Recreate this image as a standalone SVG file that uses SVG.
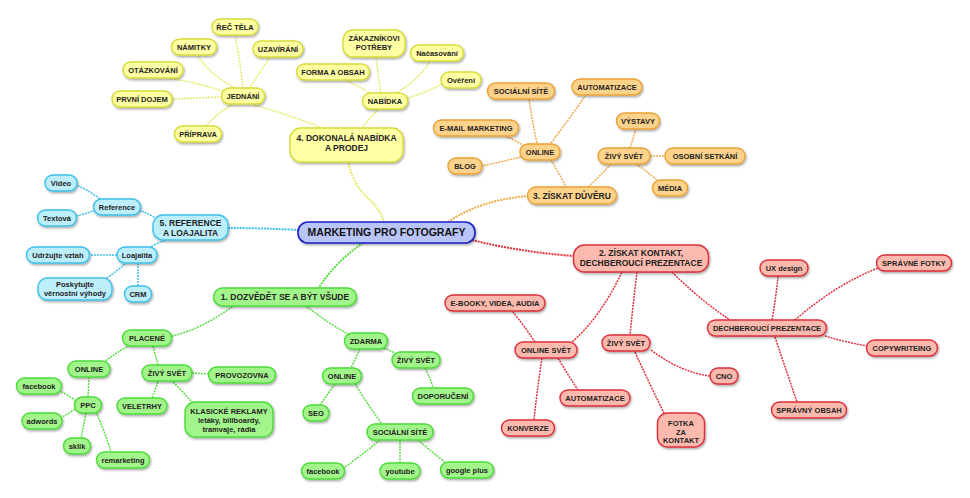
<svg xmlns="http://www.w3.org/2000/svg" width="970" height="498" viewBox="0 0 970 498">
<defs>
<filter id="sh" x="-20%" y="-30%" width="140%" height="170%">
<feDropShadow dx="1" dy="1.5" stdDeviation="1" flood-color="#000" flood-opacity="0.35"/>
</filter>
</defs>
<style>
text{font-family:"Liberation Sans",Arial,sans-serif;font-weight:bold;font-size:7.5px;fill:#222;text-anchor:middle}
.big{font-size:8.5px}
.main{font-size:10.5px;fill:#111}
rect{stroke-width:1.4;filter:url(#sh)}
.y rect{fill:#ffffa4;stroke:#d8dc38}
.o rect{fill:#fdd38c;stroke:#eba236}
.b rect{fill:#bdeefc;stroke:#3cbfe8}
.g rect{fill:#a2f58a;stroke:#4cdb3a}
.r rect{fill:#fcb9ad;stroke:#dd2f3a}
.c rect{fill:#b9c4f8;stroke:#1a22c6;stroke-width:1.6}
#connectors path{fill:none;stroke-dasharray:2 1;stroke-width:1.5}
#connectors .m{stroke-width:2}
.cy{stroke:#e6ea6a}
.co{stroke:#f0aa4c}
.cb{stroke:#3cbfe8}
.cg{stroke:#5ade44}
.cr{stroke:#e0323e}
</style>
<rect x="0" y="0" width="970" height="498" fill="#fff" style="filter:none;stroke:none"/>
<g id="connectors">
<!-- main branches -->
<path class="cy m" d="M348,160 Q352,185 370,200 Q382,212 384,223"/>
<path class="co m" d="M448,222 Q480,200 528,196"/>
<path class="cr m" d="M472,240 Q520,252 574,256"/>
<path class="cg m" d="M363,243 Q335,262 318,289"/>
<path class="cb m" d="M299,230 Q260,228 228,228"/>
<!-- yellow -->
<path class="cy" d="M243,89 Q240,60 235,35"/>
<path class="cy" d="M238,90 Q210,75 197,55"/>
<path class="cy" d="M249,89 Q260,72 270,57"/>
<path class="cy" d="M226,92 Q195,82 168,78"/>
<path class="cy" d="M222,97 L172,99"/>
<path class="cy" d="M233,104 Q215,115 205,127"/>
<path class="cy" d="M254,105 Q290,115 322,128"/>
<path class="cy" d="M378,110 Q368,120 362,128"/>
<path class="cy" d="M381,93 Q378,75 376,57"/>
<path class="cy" d="M395,94 Q418,80 430,62"/>
<path class="cy" d="M372,94 Q358,86 345,80"/>
<path class="cy" d="M407,98 Q428,92 443,83"/>
<!-- orange -->
<path class="co" d="M551,160 Q560,175 566,187"/>
<path class="co" d="M611,164 Q598,178 588,187"/>
<path class="co" d="M537,143 Q532,120 529,99"/>
<path class="co" d="M551,143 Q570,118 585,96"/>
<path class="co" d="M525,146 Q514,140 505,136"/>
<path class="co" d="M521,157 Q500,162 482,166"/>
<path class="co" d="M630,148 L636,129"/>
<path class="co" d="M650,156 L665,156"/>
<path class="co" d="M636,164 Q648,172 658,181"/>
<!-- blue -->
<path class="cb" d="M139,210 Q150,214 158,220"/>
<path class="cb" d="M148,248 Q158,243 166,240"/>
<path class="cb" d="M100,199 Q88,190 76,185"/>
<path class="cb" d="M95,210 Q86,214 76,216"/>
<path class="cb" d="M117,255 L90,255"/>
<path class="cb" d="M127,262 Q116,272 104,280"/>
<path class="cb" d="M138,263 L138,286"/>
<!-- green -->
<path class="cg" d="M235,305 Q200,330 172,336"/>
<path class="cg" d="M305,305 Q330,325 350,335"/>
<path class="cg" d="M130,345 Q116,353 104,362"/>
<path class="cg" d="M153,346 L158,365"/>
<path class="cg" d="M89,377 L88,398"/>
<path class="cg" d="M192,373 L208,374"/>
<path class="cg" d="M158,382 L152,398"/>
<path class="cg" d="M173,382 Q183,392 192,402"/>
<path class="cg" d="M76,401 Q68,395 60,391"/>
<path class="cg" d="M75,409 Q68,414 62,417"/>
<path class="cg" d="M86,413 L81,438"/>
<path class="cg" d="M96,412 Q105,432 111,452"/>
<path class="cg" d="M360,349 L351,368"/>
<path class="cg" d="M384,348 L395,353"/>
<path class="cg" d="M425,368 Q430,378 433,387"/>
<path class="cg" d="M335,384 Q327,395 320,405"/>
<path class="cg" d="M355,384 Q368,405 382,424"/>
<path class="cg" d="M380,440 Q362,455 345,467"/>
<path class="cg" d="M400,440 L400,463"/>
<path class="cg" d="M418,440 Q432,452 446,463"/>
<!-- red -->
<path class="cr" d="M622,272 Q600,318 572,342"/>
<path class="cr" d="M637,272 Q633,305 630,335"/>
<path class="cr" d="M672,272 Q700,300 730,320"/>
<path class="cr" d="M535,342 Q525,327 513,312"/>
<path class="cr" d="M542,358 Q537,390 534,420"/>
<path class="cr" d="M558,358 Q568,375 578,390"/>
<path class="cr" d="M651,350 Q680,372 710,376"/>
<path class="cr" d="M635,352 Q650,385 664,413"/>
<path class="cr" d="M772,320 Q776,297 778,277"/>
<path class="cr" d="M795,320 Q835,285 878,268"/>
<path class="cr" d="M825,336 Q845,342 867,346"/>
<path class="cr" d="M775,337 Q786,370 797,402"/>
</g>

<!-- central -->
<g id="center" class="c"><rect x="298" y="222" width="177" height="21" rx="10"/><text class="main" x="386.5" y="236">MARKETING PRO FOTOGRAFY</text></g>

<!-- yellow branch -->
<g id="b4" class="y"><rect x="290" y="128" width="113" height="34" rx="11"/><text class="big" x="346.5" y="140.5">4. DOKONALÁ NABÍDKA</text><text class="big" x="346.5" y="151">A PRODEJ</text></g>
<g id="jednani" class="y"><rect x="221.5" y="88" width="43" height="16" rx="8"/><text x="243" y="98.7">JEDNÁNÍ</text></g>
<g id="rec-tela" class="y"><rect x="212" y="19" width="46" height="16" rx="8"/><text x="235" y="29.7">ŘEČ TĚLA</text></g>
<g id="namitky" class="y"><rect x="171.5" y="39" width="45" height="16" rx="8"/><text x="194" y="49.7">NÁMITKY</text></g>
<g id="uzavirani" class="y"><rect x="253" y="41" width="50" height="16" rx="8"/><text x="278" y="51.7">UZAVÍRÁNÍ</text></g>
<g id="otazkovani" class="y"><rect x="123" y="62" width="60" height="16" rx="8"/><text x="153" y="72.7">OTÁZKOVÁNÍ</text></g>
<g id="prvni-dojem" class="y"><rect x="112" y="91" width="60" height="16" rx="8"/><text x="142" y="101.7">PRVNÍ DOJEM</text></g>
<g id="priprava" class="y"><rect x="174.5" y="126" width="47" height="16" rx="8"/><text x="198" y="136.7">PŘÍPRAVA</text></g>
<g id="nabidka" class="y"><rect x="362.5" y="93" width="45" height="16" rx="8"/><text x="385" y="103.7">NABÍDKA</text></g>
<g id="zakaznikovi" class="y"><rect x="343" y="30" width="62" height="27" rx="10"/><text x="374" y="41">ZÁKAZNÍKOVI</text><text x="374" y="50">POTŘEBY</text></g>
<g id="nacasovani" class="y"><rect x="410.5" y="45" width="53" height="16" rx="8"/><text x="437" y="55.7">Načasování</text></g>
<g id="forma" class="y"><rect x="296.5" y="64" width="73" height="16" rx="8"/><text x="333" y="74.7">FORMA A OBSAH</text></g>
<g id="overeni" class="y"><rect x="441" y="72" width="40" height="16" rx="8"/><text x="461" y="82.7">Ověření</text></g>

<!-- orange branch -->
<g id="b3" class="o"><rect x="527.5" y="187" width="89" height="17" rx="8.5"/><text class="big" x="572" y="198.5">3. ZÍSKAT DŮVĚRU</text></g>
<g id="o-online" class="o"><rect x="520" y="144" width="40" height="16" rx="8"/><text x="540" y="154.7">ONLINE</text></g>
<g id="o-socialni" class="o"><rect x="487.5" y="83" width="67" height="16" rx="8"/><text x="521" y="93.7">SOCIÁLNÍ SÍTĚ</text></g>
<g id="o-automatizace" class="o"><rect x="572" y="79" width="70" height="16" rx="8"/><text x="607" y="89.7">AUTOMATIZACE</text></g>
<g id="o-email" class="o"><rect x="433.5" y="120" width="85" height="16" rx="8"/><text x="476" y="130.7">E-MAIL MARKETING</text></g>
<g id="o-blog" class="o"><rect x="448" y="158" width="34" height="16" rx="8"/><text x="465" y="168.7">BLOG</text></g>
<g id="o-zivy" class="o"><rect x="598" y="148" width="52" height="16" rx="8"/><text x="624" y="158.7">ŽIVÝ SVĚT</text></g>
<g id="o-vystavy" class="o"><rect x="616.5" y="113" width="43" height="16" rx="8"/><text x="638" y="123.7">VÝSTAVY</text></g>
<g id="o-osobni" class="o"><rect x="665" y="148" width="80" height="16" rx="8"/><text x="705" y="158.7">OSOBNÍ SETKÁNÍ</text></g>
<g id="o-media" class="o"><rect x="652.5" y="180" width="35" height="16" rx="8"/><text x="670" y="190.7">MÉDIA</text></g>

<!-- blue branch -->
<g id="b5" class="b"><rect x="153" y="215" width="75" height="25" rx="10"/><text class="big" x="190.5" y="225.5">5. REFERENCE</text><text class="big" x="190.5" y="235.5">A LOAJALITA</text></g>
<g id="reference" class="b"><rect x="93.5" y="199" width="47" height="16" rx="8"/><text x="117" y="209.7">Reference</text></g>
<g id="video" class="b"><rect x="45" y="175" width="32" height="16" rx="8"/><text x="61" y="185.7">Video</text></g>
<g id="textova" class="b"><rect x="37.5" y="210" width="39" height="16" rx="8"/><text x="57" y="220.7">Textová</text></g>
<g id="loajalita" class="b"><rect x="117" y="247" width="40" height="16" rx="8"/><text x="137" y="257.7">Loajalita</text></g>
<g id="udrzujte" class="b"><rect x="26.5" y="247" width="63" height="16" rx="8"/><text x="58" y="257.7">Udržujte vztah</text></g>
<g id="poskytujte" class="b"><rect x="38" y="278" width="74" height="22" rx="9"/><text x="75" y="287">Poskytujte</text><text x="75" y="296">věrnostní výhody</text></g>
<g id="crm" class="b"><rect x="124.5" y="286" width="27" height="16" rx="8"/><text x="138" y="296.7">CRM</text></g>

<!-- green branch -->
<g id="b1" class="g"><rect x="213.5" y="288" width="143" height="18" rx="9"/><text class="big" x="285" y="300">1. DOZVĚDĚT SE A BÝT VŠUDE</text></g>
<g id="placene" class="g"><rect x="122.5" y="330" width="49" height="16" rx="8"/><text x="147" y="340.7">PLACENÉ</text></g>
<g id="g-online" class="g"><rect x="68" y="361" width="42" height="16" rx="8"/><text x="89" y="371.7">ONLINE</text></g>
<g id="g-zivy" class="g"><rect x="142" y="365" width="50" height="16" rx="8"/><text x="167" y="375.7">ŽIVÝ SVĚT</text></g>
<g id="provozovna" class="g"><rect x="208.5" y="367" width="67" height="16" rx="8"/><text x="242" y="377.7">PROVOZOVNA</text></g>
<g id="g-facebook1" class="g"><rect x="16.5" y="378" width="45" height="16" rx="8"/><text x="39" y="388.7">facebook</text></g>
<g id="ppc" class="g"><rect x="74.5" y="397" width="27" height="16" rx="8"/><text x="88" y="407.7">PPC</text></g>
<g id="veletrhy" class="g"><rect x="117" y="398" width="50" height="16" rx="8"/><text x="142" y="408.7">VELETRHY</text></g>
<g id="klasicke" class="g"><rect x="185" y="402" width="88" height="35" rx="10"/><text x="229" y="414">KLASICKÉ REKLAMY</text><text x="229" y="423">letáky, billboardy,</text><text x="229" y="431.5">tramvaje, rádia</text></g>
<g id="adwords" class="g"><rect x="22" y="413" width="40" height="16" rx="8"/><text x="42" y="423.7">adwords</text></g>
<g id="sklik" class="g"><rect x="63.5" y="438" width="27" height="16" rx="8"/><text x="77" y="448.7">sklik</text></g>
<g id="remarketing" class="g"><rect x="96.5" y="452" width="53" height="16" rx="8"/><text x="123" y="462.7">remarketing</text></g>
<g id="zdarma" class="g"><rect x="344.5" y="333" width="43" height="16" rx="8"/><text x="366" y="343.7">ZDARMA</text></g>
<g id="g-zivy2" class="g"><rect x="392" y="352" width="48" height="16" rx="8"/><text x="416" y="362.7">ŽIVÝ SVĚT</text></g>
<g id="g-online2" class="g"><rect x="322.5" y="368" width="39" height="16" rx="8"/><text x="342" y="378.7">ONLINE</text></g>
<g id="doporuceni" class="g"><rect x="412.5" y="388" width="61" height="16" rx="8"/><text x="443" y="398.7">DOPORUČENÍ</text></g>
<g id="seo" class="g"><rect x="303" y="405" width="26" height="16" rx="8"/><text x="316" y="415.7">SEO</text></g>
<g id="g-socialni" class="g"><rect x="367" y="424" width="66" height="16" rx="8"/><text x="400" y="434.7">SOCIÁLNÍ SÍTĚ</text></g>
<g id="g-facebook2" class="g"><rect x="301.5" y="463" width="43" height="16" rx="8"/><text x="323" y="473.7">facebook</text></g>
<g id="youtube" class="g"><rect x="380" y="463" width="40" height="16" rx="8"/><text x="400" y="473.7">youtube</text></g>
<g id="googleplus" class="g"><rect x="440.5" y="462" width="53" height="16" rx="8"/><text x="467" y="472.7">google plus</text></g>

<!-- red branch -->
<g id="b2" class="r"><rect x="573.5" y="245" width="135" height="27" rx="11"/><text class="big" x="641" y="256">2. ZÍSKAT KONTAKT,</text><text class="big" x="641" y="266">DECHBEROUCÍ PREZENTACE</text></g>
<g id="ebooky" class="r"><rect x="445" y="295" width="100" height="16" rx="8"/><text x="495" y="305.7">E-BOOKY, VIDEA, AUDIA</text></g>
<g id="online-svet" class="r"><rect x="515" y="342" width="62" height="16" rx="8"/><text x="546" y="352.7">ONLINE SVĚT</text></g>
<g id="r-zivy" class="r"><rect x="602" y="335" width="48" height="16" rx="8"/><text x="626" y="345.7">ŽIVÝ SVĚT</text></g>
<g id="r-automatizace" class="r"><rect x="560" y="390" width="70" height="16" rx="8"/><text x="595" y="400.7">AUTOMATIZACE</text></g>
<g id="konverze" class="r"><rect x="501.5" y="420" width="53" height="16" rx="8"/><text x="528" y="430.7">KONVERZE</text></g>
<g id="fotka" class="r"><rect x="657.5" y="413" width="47" height="34" rx="10"/><text x="681" y="426">FOTKA</text><text x="681" y="434.5">ZA</text><text x="681" y="443">KONTAKT</text></g>
<g id="cno" class="r"><rect x="710" y="368" width="28" height="16" rx="8"/><text x="724" y="378.7">CNO</text></g>
<g id="dechberouci" class="r"><rect x="707.5" y="320" width="119" height="16" rx="8"/><text x="767" y="330.7">DECHBEROUCÍ PREZENTACE</text></g>
<g id="ux" class="r"><rect x="760" y="260" width="48" height="16" rx="8"/><text x="784" y="270.7">UX design</text></g>
<g id="spravne-fotky" class="r"><rect x="876.5" y="255" width="75" height="16" rx="8"/><text x="914" y="265.7">SPRÁVNÉ FOTKY</text></g>
<g id="copywriteing" class="r"><rect x="866.5" y="340" width="71" height="16" rx="8"/><text x="902" y="350.7">COPYWRITEING</text></g>
<g id="spravny-obsah" class="r"><rect x="771.5" y="402" width="75" height="16" rx="8"/><text x="809" y="412.7">SPRÁVNÝ OBSAH</text></g>
</svg>
